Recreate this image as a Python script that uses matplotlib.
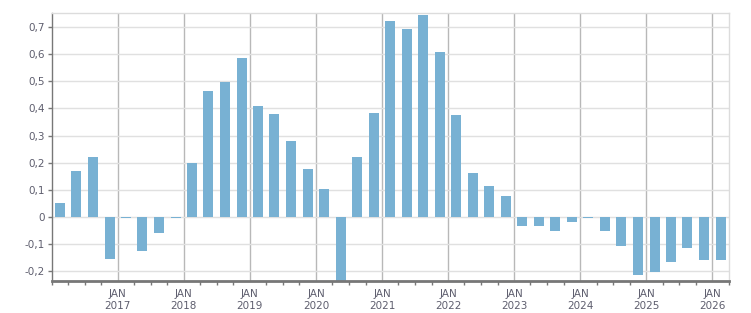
import pandas as pd
import matplotlib
matplotlib.use("Agg")
import matplotlib.pyplot as plt
import matplotlib.dates as mdates
from matplotlib.ticker import FuncFormatter

# quarterly values, Q1 2016 .. Q1 2026
first_quarter = "2016Q1"
values = [
    0.053, 0.169, 0.220, -0.153,
    -0.003, -0.124, -0.059, -0.003,
    0.198, 0.463, 0.499, 0.584,
    0.408, 0.378, 0.279, 0.176,
    0.103, -0.300, 0.220, 0.382,
    0.723, 0.694, 0.745, 0.606,
    0.375, 0.162, 0.114, 0.077,
    -0.033, -0.033, -0.051, -0.018,
    -0.004, -0.051, -0.106, -0.213,
    -0.202, -0.165, -0.114, -0.158,
    -0.158,
]
year_labels = list(range(2017, 2027))

quarters = pd.period_range(first_quarter, periods=len(values), freq="Q")
starts = quarters.start_time
ends = quarters.end_time
centers = starts + (ends - starts) / 2

bar_color = "#78b1d3"
text_color = "#5e5e6e"

fig = plt.figure(figsize=(7.51, 3.13), dpi=100)
ax = fig.add_axes([51.7 / 751, 1 - 280.7 / 313, 677 / 751, 267.4 / 313])

ax.bar(centers, values, width=55, color=bar_color, zorder=3)

ax.set_xlim(pd.Timestamp("2016-01-01"), pd.Timestamp("2026-04-01"))
ax.set_ylim(-0.234, 0.75)

ax.set_yticks([-0.2, -0.1, 0, 0.1, 0.2, 0.3, 0.4, 0.5, 0.6, 0.7])
ax.yaxis.set_major_formatter(FuncFormatter(lambda v, p: f"{v:.1f}".replace(".", ",") if abs(v) > 1e-9 else "0"))

year_ticks = [pd.Timestamp(f"{y}-01-01") for y in year_labels]
ax.set_xticks(year_ticks)
ax.set_xticklabels([f"JAN\n{y}" for y in year_labels])
ax.xaxis.set_minor_locator(mdates.MonthLocator(bymonth=[1, 4, 7, 10]))

ax.grid(axis="y", color="#e0e0e0", linewidth=1, zorder=0)
ax.grid(axis="x", which="major", color="#b8b8b8", linewidth=1, zorder=1)

for side in ["top", "right"]:
    ax.spines[side].set_color("#dcdcdc")
    ax.spines[side].set_linewidth(1)
ax.spines["left"].set_color("#777777")
ax.spines["left"].set_linewidth(1)
ax.spines["bottom"].set_color("#777777")
ax.spines["bottom"].set_linewidth(2)
ax.spines["bottom"].set_zorder(4)

ax.tick_params(axis="y", length=3, width=1, color="#777777", labelcolor=text_color, labelsize=7.5, pad=2)
ax.tick_params(axis="x", which="major", length=0, labelcolor=text_color, labelsize=7.5, pad=6)
ax.tick_params(axis="x", which="minor", length=3, width=1, color="#777777")

fig.savefig("out.png", dpi=100)
